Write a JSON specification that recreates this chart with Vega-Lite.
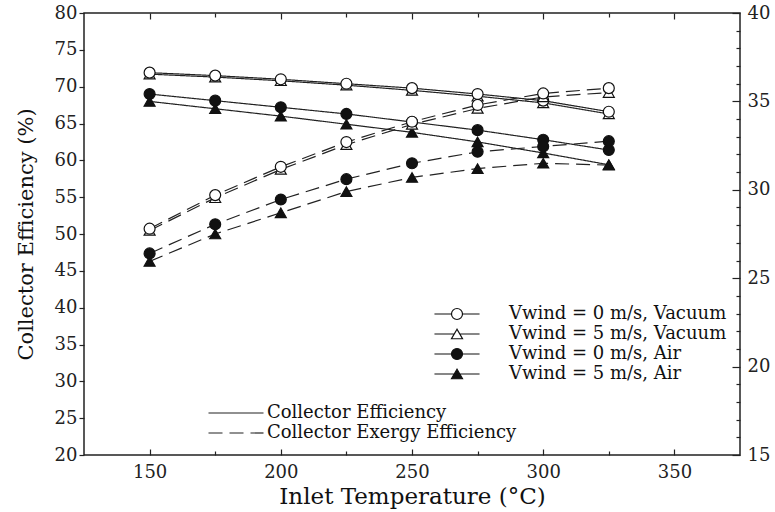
{
  "$schema": "https://vega.github.io/schema/vega-lite/v6.json",
  "width": 656,
  "height": 442,
  "autosize": {"type": "none"},
  "padding": {"left": 84, "top": 13, "right": 35, "bottom": 57},
  "background": "white",
  "config": {
    "font": "DejaVu Serif",
    "view": {"stroke": "#222", "strokeWidth": 1.5},
    "axis": {"grid": false, "domain": false, "labelFont": "DejaVu Serif", "labelFontSize": 18, "labelColor": "#222", "tickColor": "#222", "tickWidth": 1.2, "titleFont": "DejaVu Serif", "titleFontWeight": "normal", "titleColor": "#111"},
    "legend": {"labelFont": "DejaVu Serif", "labelFontSize": 18, "labelColor": "#111", "labelLimit": 400}
  },
  "datasets": {
    "eff": [
      {"t": 150, "s": "Vwind = 5 m/s, Vacuum", "k": "Collector Efficiency", "v": 71.7},
      {"t": 175, "s": "Vwind = 5 m/s, Vacuum", "k": "Collector Efficiency", "v": 71.3},
      {"t": 200, "s": "Vwind = 5 m/s, Vacuum", "k": "Collector Efficiency", "v": 70.8},
      {"t": 225, "s": "Vwind = 5 m/s, Vacuum", "k": "Collector Efficiency", "v": 70.2},
      {"t": 250, "s": "Vwind = 5 m/s, Vacuum", "k": "Collector Efficiency", "v": 69.5},
      {"t": 275, "s": "Vwind = 5 m/s, Vacuum", "k": "Collector Efficiency", "v": 68.7},
      {"t": 300, "s": "Vwind = 5 m/s, Vacuum", "k": "Collector Efficiency", "v": 67.8},
      {"t": 325, "s": "Vwind = 5 m/s, Vacuum", "k": "Collector Efficiency", "v": 66.3},
      {"t": 150, "s": "Vwind = 5 m/s, Air", "k": "Collector Efficiency", "v": 68.0},
      {"t": 175, "s": "Vwind = 5 m/s, Air", "k": "Collector Efficiency", "v": 67.0},
      {"t": 200, "s": "Vwind = 5 m/s, Air", "k": "Collector Efficiency", "v": 66.0},
      {"t": 225, "s": "Vwind = 5 m/s, Air", "k": "Collector Efficiency", "v": 64.9},
      {"t": 250, "s": "Vwind = 5 m/s, Air", "k": "Collector Efficiency", "v": 63.8},
      {"t": 275, "s": "Vwind = 5 m/s, Air", "k": "Collector Efficiency", "v": 62.5},
      {"t": 300, "s": "Vwind = 5 m/s, Air", "k": "Collector Efficiency", "v": 61.0},
      {"t": 325, "s": "Vwind = 5 m/s, Air", "k": "Collector Efficiency", "v": 59.4},
      {"t": 150, "s": "Vwind = 0 m/s, Vacuum", "k": "Collector Efficiency", "v": 71.9},
      {"t": 175, "s": "Vwind = 0 m/s, Vacuum", "k": "Collector Efficiency", "v": 71.5},
      {"t": 200, "s": "Vwind = 0 m/s, Vacuum", "k": "Collector Efficiency", "v": 71.0},
      {"t": 225, "s": "Vwind = 0 m/s, Vacuum", "k": "Collector Efficiency", "v": 70.4},
      {"t": 250, "s": "Vwind = 0 m/s, Vacuum", "k": "Collector Efficiency", "v": 69.8},
      {"t": 275, "s": "Vwind = 0 m/s, Vacuum", "k": "Collector Efficiency", "v": 69.0},
      {"t": 300, "s": "Vwind = 0 m/s, Vacuum", "k": "Collector Efficiency", "v": 68.1},
      {"t": 325, "s": "Vwind = 0 m/s, Vacuum", "k": "Collector Efficiency", "v": 66.6},
      {"t": 150, "s": "Vwind = 0 m/s, Air", "k": "Collector Efficiency", "v": 69.0},
      {"t": 175, "s": "Vwind = 0 m/s, Air", "k": "Collector Efficiency", "v": 68.1},
      {"t": 200, "s": "Vwind = 0 m/s, Air", "k": "Collector Efficiency", "v": 67.2},
      {"t": 225, "s": "Vwind = 0 m/s, Air", "k": "Collector Efficiency", "v": 66.3},
      {"t": 250, "s": "Vwind = 0 m/s, Air", "k": "Collector Efficiency", "v": 65.2},
      {"t": 275, "s": "Vwind = 0 m/s, Air", "k": "Collector Efficiency", "v": 64.1},
      {"t": 300, "s": "Vwind = 0 m/s, Air", "k": "Collector Efficiency", "v": 62.8},
      {"t": 325, "s": "Vwind = 0 m/s, Air", "k": "Collector Efficiency", "v": 61.4}
    ],
    "exg": [
      {"t": 150, "s": "Vwind = 5 m/s, Vacuum", "k": "Collector Exergy Efficiency", "v": 27.7},
      {"t": 175, "s": "Vwind = 5 m/s, Vacuum", "k": "Collector Exergy Efficiency", "v": 29.55},
      {"t": 200, "s": "Vwind = 5 m/s, Vacuum", "k": "Collector Exergy Efficiency", "v": 31.15},
      {"t": 225, "s": "Vwind = 5 m/s, Vacuum", "k": "Collector Exergy Efficiency", "v": 32.55},
      {"t": 250, "s": "Vwind = 5 m/s, Vacuum", "k": "Collector Exergy Efficiency", "v": 33.7},
      {"t": 275, "s": "Vwind = 5 m/s, Vacuum", "k": "Collector Exergy Efficiency", "v": 34.6},
      {"t": 300, "s": "Vwind = 5 m/s, Vacuum", "k": "Collector Exergy Efficiency", "v": 35.25},
      {"t": 325, "s": "Vwind = 5 m/s, Vacuum", "k": "Collector Exergy Efficiency", "v": 35.5},
      {"t": 150, "s": "Vwind = 5 m/s, Air", "k": "Collector Exergy Efficiency", "v": 25.95},
      {"t": 175, "s": "Vwind = 5 m/s, Air", "k": "Collector Exergy Efficiency", "v": 27.5},
      {"t": 200, "s": "Vwind = 5 m/s, Air", "k": "Collector Exergy Efficiency", "v": 28.7},
      {"t": 225, "s": "Vwind = 5 m/s, Air", "k": "Collector Exergy Efficiency", "v": 29.9},
      {"t": 250, "s": "Vwind = 5 m/s, Air", "k": "Collector Exergy Efficiency", "v": 30.7},
      {"t": 275, "s": "Vwind = 5 m/s, Air", "k": "Collector Exergy Efficiency", "v": 31.2},
      {"t": 300, "s": "Vwind = 5 m/s, Air", "k": "Collector Exergy Efficiency", "v": 31.5},
      {"t": 325, "s": "Vwind = 5 m/s, Air", "k": "Collector Exergy Efficiency", "v": 31.4},
      {"t": 150, "s": "Vwind = 0 m/s, Vacuum", "k": "Collector Exergy Efficiency", "v": 27.8},
      {"t": 175, "s": "Vwind = 0 m/s, Vacuum", "k": "Collector Exergy Efficiency", "v": 29.7},
      {"t": 200, "s": "Vwind = 0 m/s, Vacuum", "k": "Collector Exergy Efficiency", "v": 31.3},
      {"t": 225, "s": "Vwind = 0 m/s, Vacuum", "k": "Collector Exergy Efficiency", "v": 32.7},
      {"t": 250, "s": "Vwind = 0 m/s, Vacuum", "k": "Collector Exergy Efficiency", "v": 33.85},
      {"t": 275, "s": "Vwind = 0 m/s, Vacuum", "k": "Collector Exergy Efficiency", "v": 34.8},
      {"t": 300, "s": "Vwind = 0 m/s, Vacuum", "k": "Collector Exergy Efficiency", "v": 35.45},
      {"t": 325, "s": "Vwind = 0 m/s, Vacuum", "k": "Collector Exergy Efficiency", "v": 35.75},
      {"t": 150, "s": "Vwind = 0 m/s, Air", "k": "Collector Exergy Efficiency", "v": 26.4},
      {"t": 175, "s": "Vwind = 0 m/s, Air", "k": "Collector Exergy Efficiency", "v": 28.05},
      {"t": 200, "s": "Vwind = 0 m/s, Air", "k": "Collector Exergy Efficiency", "v": 29.45},
      {"t": 225, "s": "Vwind = 0 m/s, Air", "k": "Collector Exergy Efficiency", "v": 30.6},
      {"t": 250, "s": "Vwind = 0 m/s, Air", "k": "Collector Exergy Efficiency", "v": 31.5},
      {"t": 275, "s": "Vwind = 0 m/s, Air", "k": "Collector Exergy Efficiency", "v": 32.15},
      {"t": 300, "s": "Vwind = 0 m/s, Air", "k": "Collector Exergy Efficiency", "v": 32.45},
      {"t": 325, "s": "Vwind = 0 m/s, Air", "k": "Collector Exergy Efficiency", "v": 32.75}
    ]
  },
  "layer": [
    {
      "data": {"name": "eff"},
      "mark": {"type": "line", "stroke": "#222", "strokeWidth": 1.2},
      "encoding": {
        "x": {"field": "t", "type": "quantitative", "scale": {"domain": [125, 375], "nice": false, "zero": false},
              "axis": {"orient": "bottom", "values": [150, 200, 250, 300, 350], "tickSize": -6, "labelPadding": 14, "title": "Inlet Temperature (°C)", "titleFontSize": 23, "titlePadding": 4}},
        "y": {"field": "v", "type": "quantitative", "scale": {"domain": [20, 80], "nice": false, "zero": false},
              "axis": {"orient": "left", "values": [20, 25, 30, 35, 40, 45, 50, 55, 60, 65, 70, 75, 80], "tickSize": 5, "labelPadding": 2, "title": "Collector Efficiency (%)", "titleFontSize": 21, "titlePadding": 18}},
        "detail": {"field": "s"},
        "strokeDash": {"field": "k", "type": "nominal",
                       "scale": {"domain": ["Collector Efficiency", "Collector Exergy Efficiency"], "range": [[1, 0], [14, 7]]},
                       "legend": {"orient": "none", "legendX": 141, "legendY": 389, "title": null, "symbolType": "M-2.75,0H2.75", "symbolSize": 400, "symbolStrokeWidth": 1.2, "symbolStrokeColor": "#222", "labelOffset": 20, "rowPadding": 0, "padding": 0}}
      }
    },
    {
      "data": {"name": "exg"},
      "mark": {"type": "line", "stroke": "#222", "strokeWidth": 1.2},
      "encoding": {
        "x": {"field": "t", "type": "quantitative",
              "axis": {"orient": "top", "values": [150, 200, 250, 300, 350], "tickSize": -6, "labels": false, "title": null}},
        "y": {"field": "v", "type": "quantitative", "scale": {"domain": [15, 40], "nice": false, "zero": false},
              "axis": {"orient": "right", "values": [15, 20, 25, 30, 35, 40], "tickSize": -8, "labelPadding": 15, "title": null}},
        "detail": {"field": "s"},
        "strokeDash": {"field": "k", "type": "nominal"}
      }
    },
    {
      "data": {"name": "eff"},
      "mark": {"type": "point", "filled": true, "stroke": "#111", "strokeWidth": 1.2, "size": 120, "opacity": 1},
      "encoding": {
        "x": {"field": "t", "type": "quantitative",
              "axis": {"orient": "top", "values": [175, 225, 275, 325], "tickSize": -4, "labels": false, "title": null}},
        "y": {"field": "v", "type": "quantitative", "scale": {"domain": [20, 80], "nice": false, "zero": false}, "axis": null},
        "shape": {"field": "s", "type": "nominal", "legend": null,
                  "scale": {"domain": ["Vwind = 0 m/s, Vacuum", "Vwind = 5 m/s, Vacuum", "Vwind = 0 m/s, Air", "Vwind = 5 m/s, Air"], "range": ["circle", "triangle-up", "circle", "triangle-up"]}},
        "fill": {"field": "s", "type": "nominal", "legend": null,
                 "scale": {"domain": ["Vwind = 0 m/s, Vacuum", "Vwind = 5 m/s, Vacuum", "Vwind = 0 m/s, Air", "Vwind = 5 m/s, Air"], "range": ["white", "white", "#111", "#111"]}}
      }
    },
    {
      "data": {"name": "exg"},
      "mark": {"type": "point", "filled": true, "stroke": "#111", "strokeWidth": 1.2, "size": 120, "opacity": 1},
      "encoding": {
        "x": {"field": "t", "type": "quantitative",
              "axis": {"orient": "bottom", "values": [175, 225, 275, 325], "tickSize": -4, "labels": false, "title": null}},
        "y": {"field": "v", "type": "quantitative", "scale": {"domain": [15, 40], "nice": false, "zero": false},
              "axis": {"orient": "right", "values": [16, 17, 18, 19, 21, 22, 23, 24, 26, 27, 28, 29, 31, 32, 33, 34, 36, 37, 38, 39], "tickSize": -4, "labels": false, "title": null}},
        "shape": {"field": "s", "type": "nominal", "legend": null,
                  "scale": {"domain": ["Vwind = 0 m/s, Vacuum", "Vwind = 5 m/s, Vacuum", "Vwind = 0 m/s, Air", "Vwind = 5 m/s, Air"], "range": ["circle", "triangle-up", "circle", "triangle-up"]}},
        "fill": {"field": "s", "type": "nominal", "legend": null,
                 "scale": {"domain": ["Vwind = 0 m/s, Vacuum", "Vwind = 5 m/s, Vacuum", "Vwind = 0 m/s, Air", "Vwind = 5 m/s, Air"], "range": ["white", "white", "#111", "#111"]}}
      }
    },
    {
      "data": {"name": "eff"},
      "mark": {"type": "point", "filled": true, "stroke": "#111", "strokeWidth": 1.2, "size": 121, "opacity": 0},
      "encoding": {
        "x": {"field": "t", "type": "quantitative", "axis": null},
        "y": {"field": "v", "type": "quantitative", "scale": {"domain": [20, 80], "nice": false, "zero": false}, "axis": null},
        "shape": {"field": "s", "type": "nominal",
                  "scale": {"domain": ["Vwind = 0 m/s, Vacuum", "Vwind = 5 m/s, Vacuum", "Vwind = 0 m/s, Air", "Vwind = 5 m/s, Air"],
                            "range": ["M-4.1,0H-1M1,0H4.1M-1,0A1,1,0,1,0,1,0A1,1,0,1,0,-1,0", "M-4.1,0H-0.5M0.5,0H4.1M0,-0.866L-1,0.866L1,0.866Z", "M-4.1,0H-1M1,0H4.1M-1,0A1,1,0,1,0,1,0A1,1,0,1,0,-1,0", "M-4.1,0H-0.5M0.5,0H4.1M0,-0.866L-1,0.866L1,0.866Z"]},
                  "legend": {"orient": "none", "legendX": 364, "legendY": 292, "title": null, "symbolSize": 121, "symbolOpacity": 1, "symbolStrokeWidth": 1.2, "symbolStrokeColor": "#111", "labelOffset": 43, "rowPadding": 2, "padding": 0,
                             "encoding": {"symbols": {"stroke": {"value": "#111"}, "strokeWidth": {"value": 1.2}, "opacity": {"value": 1}}}}},
        "fill": {"field": "s", "type": "nominal",
                 "scale": {"domain": ["Vwind = 0 m/s, Vacuum", "Vwind = 5 m/s, Vacuum", "Vwind = 0 m/s, Air", "Vwind = 5 m/s, Air"], "range": ["white", "white", "#111", "#111"]},
                 "legend": {"orient": "none", "legendX": 364, "legendY": 292, "title": null, "symbolSize": 121, "symbolOpacity": 1, "symbolStrokeWidth": 1.2, "symbolStrokeColor": "#111", "labelOffset": 43, "rowPadding": 2, "padding": 0,
                            "encoding": {"symbols": {"stroke": {"value": "#111"}, "strokeWidth": {"value": 1.2}, "opacity": {"value": 1}}}}}
      }
    }
  ],
  "resolve": {"scale": {"y": "independent", "shape": "independent", "fill": "independent"}, "axis": {"x": "independent", "y": "independent"}}
}
